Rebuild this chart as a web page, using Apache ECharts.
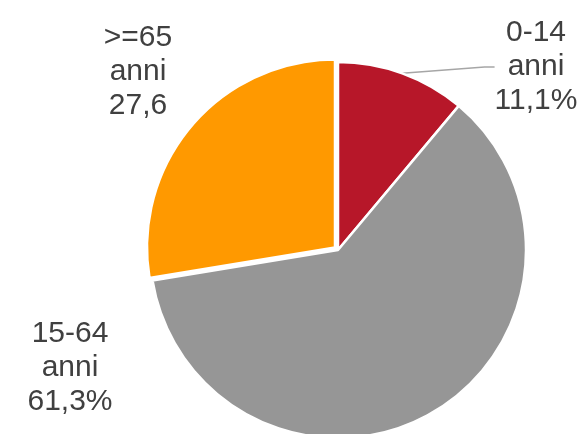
<!DOCTYPE html>
<html><head><meta charset="utf-8">
<script src="https://cdn.jsdelivr.net/npm/echarts@6/dist/echarts.min.js"></script>
<style>html,body{margin:0;padding:0;background:#fff}#c{width:585px;height:434px}</style>
</head><body><div id="c"></div>
<script>
const categories = ['0-14', '15-64', '>=65'];
const values = [11.1, 61.3, 27.6];
const labelTexts = ['0-14\nanni\n11,1%', '15-64\nanni\n61,3%', '>=65\nanni\n27,6'];
const colors = ['#B71729', '#969696', '#FF9900'];
const exploded = [false, false, true];

const labelPos = [
  {x: 536, y: 67},
  {x: 70, y: 368},
  {x: 138, y: 72}
];

const baseSeries = {
  type: 'pie',
  radius: [0, 188],
  startAngle: 90,
  clockwise: true,
  silent: true,
  itemStyle: {borderColor: '#fff', borderWidth: 2.5}
};

const chart = echarts.init(document.getElementById('c'));
chart.setOption({
  animation: false,
  series: [
    Object.assign({}, baseSeries, {
      center: [338, 250],
      label: {
        show: true,
        position: 'outside',
        fontFamily: 'Liberation Sans, Arial, sans-serif',
        fontSize: 30,
        lineHeight: 34,
        color: '#404040',
        align: 'center',
        formatter: p => labelTexts[p.dataIndex]
      },
      labelLine: {show: true, lineStyle: {color: '#A6A6A6', width: 1.5}, length: 10, length2: 10},
      labelLayout: p => ({x: labelPos[p.dataIndex].x, y: labelPos[p.dataIndex].y, align: 'center', verticalAlign: 'middle'}),
      data: categories.map((c, i) => ({
        name: c, value: values[i],
        itemStyle: exploded[i] ? {color: 'rgba(0,0,0,0)', borderWidth: 0} : {color: colors[i]},
        labelLine: {show: i === 0}
      }))
    }),
    Object.assign({}, baseSeries, {
      center: [335, 247.4],
      label: {show: false},
      labelLine: {show: false},
      data: categories.map((c, i) => ({
        name: c, value: values[i],
        itemStyle: exploded[i] ? {color: colors[i]} : {color: 'rgba(0,0,0,0)', borderWidth: 0}
      }))
    })
  ]
});
</script></body></html>
